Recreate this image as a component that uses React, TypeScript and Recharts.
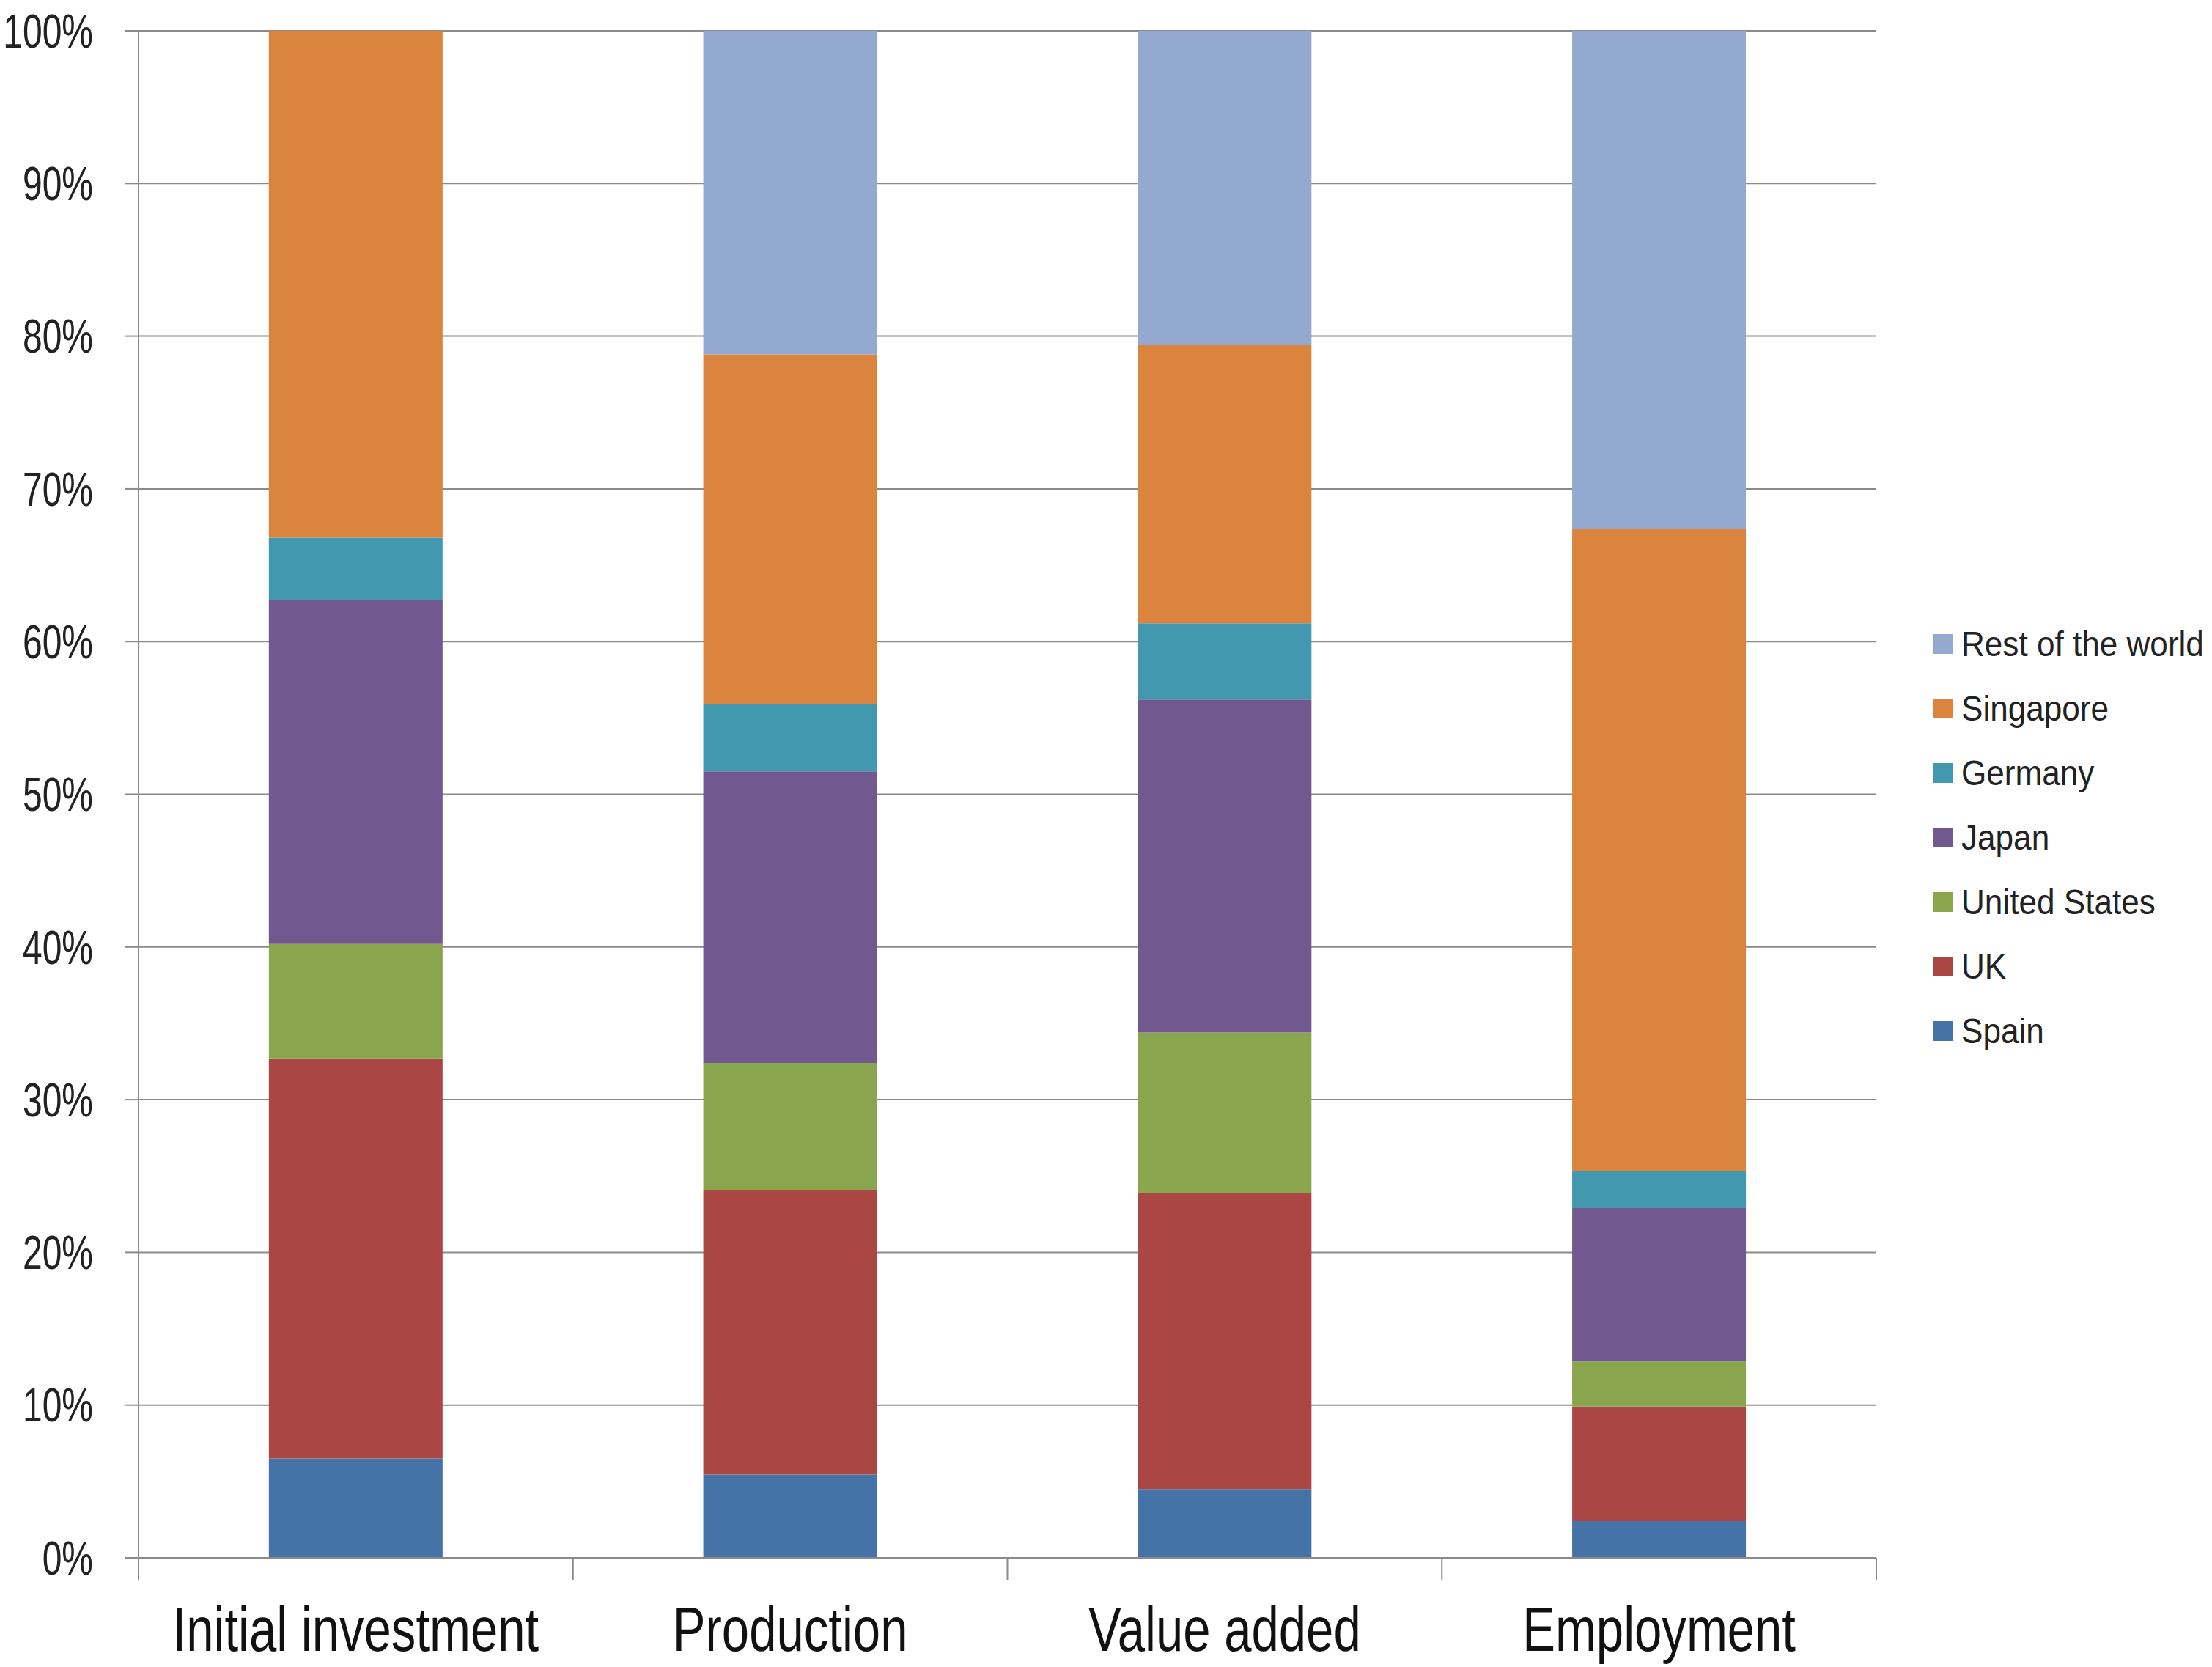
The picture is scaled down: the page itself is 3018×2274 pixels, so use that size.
import React from "react";
import {
  BarChart,
  Bar,
  XAxis,
  YAxis,
  CartesianGrid,
  Legend,
} from "recharts";

const categories = ["Initial investment", "Production", "Value added", "Employment"];

const spain = [6.5, 5.45, 4.5, 2.4];
const uk = [26.2, 18.65, 19.4, 7.5];
const unitedStates = [7.5, 8.3, 10.5, 2.95];
const japan = [22.55, 19.1, 21.8, 10.05];
const germany = [4.05, 4.4, 5.0, 2.4];
const singapore = [33.2, 22.9, 18.2, 42.1];
const restOfWorld = [0, 21.2, 20.6, 32.6];

const yTicks = [0, 10, 20, 30, 40, 50, 60, 70, 80, 90, 100];
const edgeTicks = [0, 1, 2, 3, 4];

const series = [
  { key: "Spain", values: spain, color: "#4572A7" },
  { key: "UK", values: uk, color: "#AA4643" },
  { key: "United States", values: unitedStates, color: "#89A54E" },
  { key: "Japan", values: japan, color: "#71588F" },
  { key: "Germany", values: germany, color: "#4198AF" },
  { key: "Singapore", values: singapore, color: "#DB843D" },
  { key: "Rest of the world", values: restOfWorld, color: "#93A9CF" },
];

const data = categories.map((name, i) => {
  const row: any = { name, idx: i };
  series.forEach((s) => (row[s.key] = s.values[i]));
  return row;
});

const FONT = "'Liberation Sans', Arial, sans-serif";
const GRID = "#8a8a8a";

// Excel-ish narrow text: squeeze regular Liberation Sans horizontally
function YTick(props: any) {
  const { x, y, payload } = props;
  return (
    <text
      transform={`translate(${x},${y}) scale(0.75,1)`}
      textAnchor="end"
      dy="0.355em"
      fontFamily={FONT}
      fontSize={64}
      fill="#222"
    >
      {`${payload.value}%`}
    </text>
  );
}

function XTick(props: any) {
  const { x, y, payload } = props;
  return (
    <text
      transform={`translate(${x},${y}) scale(0.78,1)`}
      textAnchor="middle"
      dy="0.71em"
      fontFamily={FONT}
      fontSize={86}
      fill="#111"
    >
      {payload.value}
    </text>
  );
}

function NoLabel() {
  return <g />;
}

function LegendBox() {
  const items = [...series].reverse();
  return (
    <div style={{ fontFamily: FONT, fontSize: 49, color: "#222" }}>
      {items.map((it) => (
        <div
          key={it.key}
          style={{ display: "flex", alignItems: "center", height: 88, whiteSpace: "nowrap" }}
        >
          <span
            style={{
              display: "inline-block",
              width: 27,
              height: 27,
              background: it.color,
              marginRight: 12,
              flexShrink: 0,
            }}
          />
          <span style={{ display: "inline-block", transform: "scaleX(0.9)", transformOrigin: "left center" }}>
            {it.key}
          </span>
        </div>
      ))}
    </div>
  );
}

export default function App() {
  return (
    <div
      style={{
        position: "absolute",
        left: 0,
        top: 0,
        width: 3018,
        height: 2274,
        background: "#fff",
      }}
    >
      <BarChart
        width={3018}
        height={2274}
        data={data}
        margin={{ top: 42, right: 58, left: 0, bottom: 0 }}
        barCategoryGap="30%"
      >
        <CartesianGrid vertical={false} stroke={GRID} strokeWidth={2} />
        {/* category boundary ticks, Excel style */}
        <XAxis
          xAxisId={0}
          type="number"
          dataKey="idx"
          domain={[0, 4]}
          ticks={edgeTicks}
          height={30}
          tick={NoLabel}
          tickSize={30}
          tickLine={{ stroke: GRID, strokeWidth: 2 }}
          axisLine={{ stroke: GRID, strokeWidth: 2 }}
          allowDataOverflow
        />
        <XAxis
          xAxisId="cat"
          dataKey="name"
          height={119}
          axisLine={false}
          tickLine={false}
          tickSize={0}
          tickMargin={36}
          tick={<XTick />}
          interval={0}
        />
        <YAxis
          width={189}
          domain={[0, 100]}
          ticks={yTicks}
          axisLine={{ stroke: GRID, strokeWidth: 2 }}
          tickLine={{ stroke: GRID, strokeWidth: 2 }}
          tickSize={19}
          tickMargin={43}
          tick={<YTick />}
        />
        <Legend
          layout="vertical"
          align="right"
          verticalAlign="middle"
          content={<LegendBox />}
          wrapperStyle={{ position: "absolute", left: 2637, top: 834, width: 400, height: 616 }}
        />
        {series.map((s) => (
          <Bar
            key={s.key}
            xAxisId="cat"
            dataKey={s.key}
            stackId="a"
            fill={s.color}
            isAnimationActive={false}
          />
        ))}
      </BarChart>
    </div>
  );
}
